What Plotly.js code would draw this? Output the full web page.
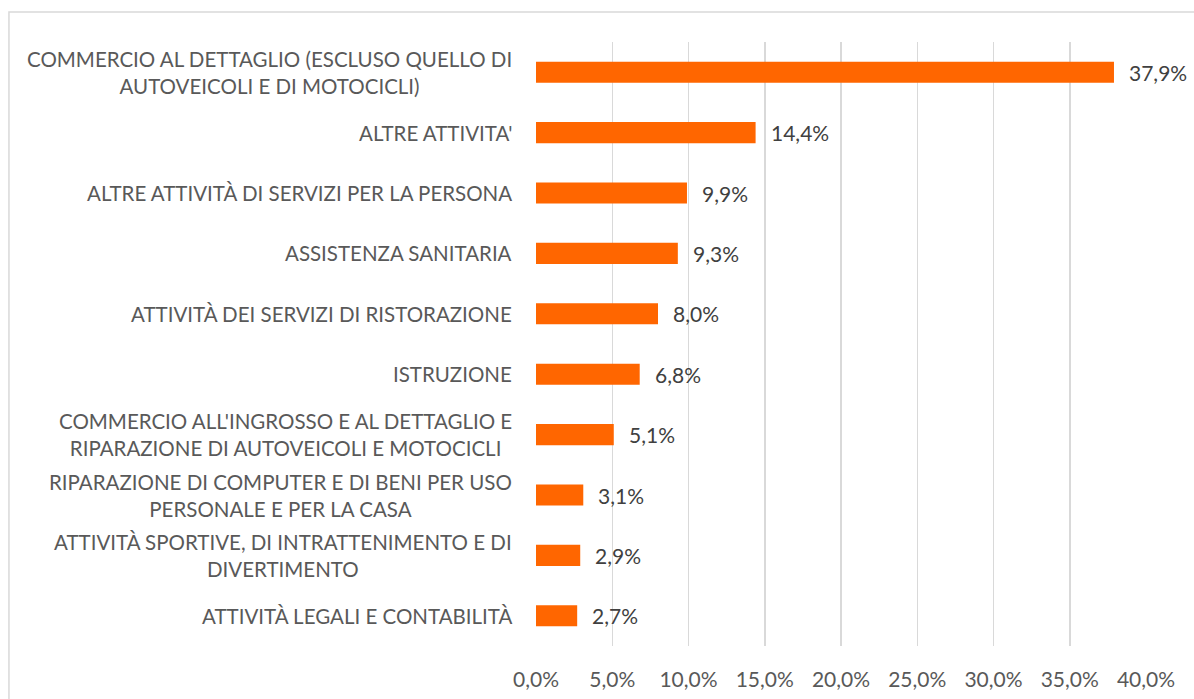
<!DOCTYPE html>
<html>
<head>
<meta charset="utf-8">
<script src="https://cdn.plot.ly/plotly-3.0.1.min.js"></script>
<style>html,body{margin:0;padding:0;background:#fff;}#chart{width:1194px;height:699px;}</style>
</head>
<body>
<div id="chart"></div>
<script>
const categories = [
  "COMMERCIO AL DETTAGLIO (ESCLUSO QUELLO DI<br>AUTOVEICOLI E DI MOTOCICLI)",
  "ALTRE ATTIVITA'",
  "ALTRE ATTIVITÀ DI SERVIZI PER LA PERSONA",
  "ASSISTENZA SANITARIA",
  "ATTIVITÀ DEI SERVIZI DI RISTORAZIONE",
  "ISTRUZIONE",
  "COMMERCIO ALL'INGROSSO E AL DETTAGLIO E<br>RIPARAZIONE DI AUTOVEICOLI E MOTOCICLI",
  "RIPARAZIONE DI COMPUTER E DI BENI PER USO<br>PERSONALE E PER LA CASA",
  "ATTIVITÀ SPORTIVE, DI INTRATTENIMENTO E DI<br>DIVERTIMENTO",
  "ATTIVITÀ LEGALI E CONTABILITÀ"
];
const values = [37.9, 14.4, 9.9, 9.3, 8.0, 6.8, 5.1, 3.1, 2.9, 2.7];
const tickValues = [0, 5, 10, 15, 20, 25, 30, 35, 40];

const FONT = "Lato, 'Open Sans', sans-serif";
const fmt = v => v.toFixed(1).replace('.', ',') + '%';

const trace = {
  type: 'bar',
  orientation: 'h',
  x: values,
  y: categories,
  width: 0.35,
  marker: {color: '#FF6600'},
  hoverinfo: 'x+y'
};

const annotations = [];
categories.forEach((c, i) => {
  annotations.push({
    x: 0, xref: 'paper', y: c, yref: 'y',
    xanchor: 'right', yanchor: 'middle', xshift: -22,
    text: c, showarrow: false, align: 'center',
    font: {family: FONT, size: 20.5, color: '#595959'}
  });
  annotations.push({
    x: values[i], xref: 'x', y: c, yref: 'y',
    xanchor: 'left', yanchor: 'middle', xshift: 13,
    text: fmt(values[i]), showarrow: false,
    font: {family: FONT, size: 21, color: '#404040'}
  });
});

const layout = {
  width: 1194, height: 699,
  margin: {l: 536, r: 48, t: 42, b: 53},
  paper_bgcolor: '#fff', plot_bgcolor: '#fff',
  showlegend: false,
  separators: ',.',
  xaxis: {
    range: [0, 40],
    tickvals: tickValues,
    ticktext: tickValues.map(v => fmt(v)),
    showgrid: true, gridcolor: '#d9d9d9', gridwidth: 1.5,
    zeroline: false, showline: false,
    ticks: 'outside', ticklen: 15, tickcolor: 'rgba(0,0,0,0)',
    tickfont: {family: FONT, size: 21, color: '#595959'},
    fixedrange: true
  },
  yaxis: {
    type: 'category',
    autorange: 'reversed',
    showticklabels: false,
    showgrid: false, zeroline: false, showline: false, ticks: '',
    fixedrange: true
  },
  annotations: annotations,
  shapes: [{
    type: 'rect', xref: 'paper', yref: 'paper',
    x0: -0.864, x1: 1.1, y0: -0.1, y1: 1.0497,
    line: {color: '#d9d9d9', width: 1.5}, fillcolor: 'rgba(0,0,0,0)', layer: 'below'
  }]
};

Plotly.newPlot('chart', [trace], layout, {displayModeBar: false, staticPlot: true});
</script>
</body>
</html>
